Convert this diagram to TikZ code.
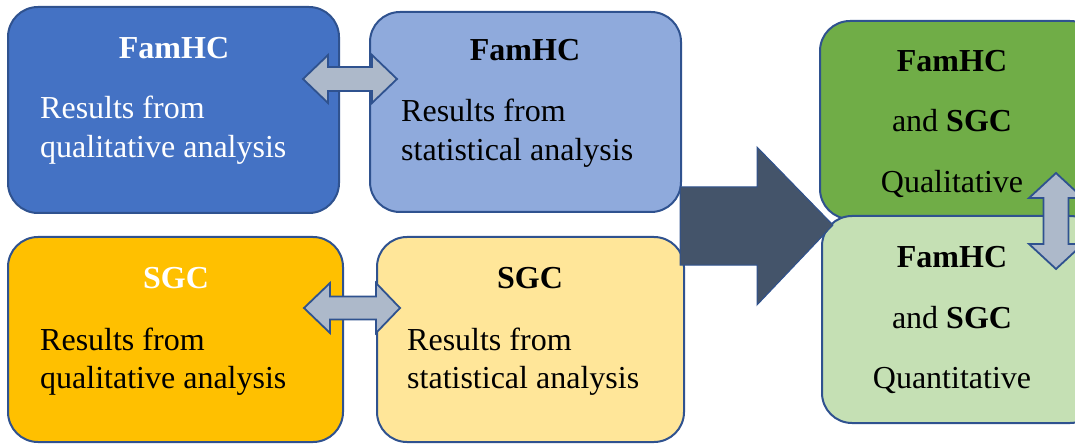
\documentclass[tikz,border=0pt]{standalone}
\usepackage{fontspec}
\setmainfont{Liberation Serif}
\usetikzlibrary{calc}
\definecolor{boxEdge}{HTML}{2F528F}
\definecolor{famQual}{HTML}{4472C4}
\definecolor{famStat}{HTML}{8FAADC}
\definecolor{sgcQual}{HTML}{FFC000}
\definecolor{sgcStat}{HTML}{FFE699}
\definecolor{bothQual}{HTML}{70AD47}
\definecolor{bothQuant}{HTML}{C5E0B4}
\definecolor{arrFill}{HTML}{ADB9CA}
\definecolor{bigArr}{HTML}{44546A}

\begin{document}
\begin{tikzpicture}[x=1pt,y=-1pt,
  panel/.style={draw=boxEdge,line width=2pt,rounded corners=30pt,inner sep=0pt},
  blockarr/.style={draw=boxEdge,line width=1.8pt,fill=arrFill,line join=miter},
  txt/.style={font=\fontsize{32}{40}\selectfont,inner sep=0pt},
  ttl/.style={font=\fontsize{32}{40}\selectfont\bfseries,inner sep=0pt,anchor=base}]
\useasboundingbox (0,0) rectangle (1075,446);
\clip (0,0) rectangle (1075,446);
% four result boxes
\node[panel,fill=famQual,minimum width=331pt,minimum height=206pt] (famqual) at (173.5,110) {};
\node[panel,fill=famStat,minimum width=311pt,minimum height=200pt] (famstat) at (525.5,112) {};
\node[panel,fill=sgcQual,minimum width=335pt,minimum height=205pt] (sgcqual) at (175.5,339.5) {};
\node[panel,fill=sgcStat,minimum width=307pt,minimum height=205pt] (sgcstat) at (530.5,339.5) {};
% combined boxes (cut at the right border)
\node[panel,fill=bothQual,minimum width=280pt,minimum height=198pt] (bothqual) at (960,120) {};
\node[panel,fill=bothQuant,minimum width=278pt,minimum height=207pt] (bothquant) at (961,319.5) {};

\node[ttl,white] (t1) at (174,59) {FamHC};
\node[txt,white,anchor=base west] (r1) at (40,119) {Results from};
\node[txt,white,anchor=base west] (q1) at (40,158) {qualitative analysis};
\node[ttl] (t2) at (525,61) {FamHC};
\node[txt,anchor=base west] (r2) at (401,122) {Results from};
\node[txt,anchor=base west] (s2) at (401,161) {statistical analysis};
\node[ttl,white] (t3) at (176,288) {SGC};
\node[txt,anchor=base west] (r3) at (40,350) {Results from};
\node[txt,anchor=base west] (q3) at (40,388) {qualitative analysis};
\node[ttl] (t4) at (530,288) {SGC};
\node[txt,anchor=base west] (r4) at (407,350) {Results from};
\node[txt,anchor=base west] (s4) at (407,388) {statistical analysis};

\node[ttl] (t5) at (952,72) {FamHC};
\node[txt,anchor=base] (a5) at (952,132) {and \textbf{SGC}};
\node[txt,anchor=base] (q5) at (952,193) {Qualitative};
\node[ttl] (t6) at (952,267) {FamHC};
\node[txt,anchor=base] (a6) at (952,328) {and \textbf{SGC}};
\node[txt,anchor=base] (q6) at (952,388) {Quantitative};

% block arrows
\coordinate (ab1) at ($(famqual.east)+(-37,-31)$);
\coordinate (ab2) at ($(famstat.west)+(28,-33)$);
\draw[blockarr] (ab1) -- ++(25,-24) -- ++(0,12) -- ($(ab2)+(-25,-12)$) -- ++(0,-12) -- (ab2)
  -- ++(-25,24) -- ++(0,-12) -- ($(ab1)+(25,12)$) -- ++(0,12) -- cycle;
\coordinate (cd1) at ($(sgcqual.east)+(-40,-31.5)$);
\coordinate (cd2) at ($(sgcstat.west)+(24,-31.5)$);
\draw[blockarr] (cd1) -- ++(26,-25) -- ++(0,13.5) -- ($(cd2)+(-24,-11.5)$) -- ++(0,-13.5) -- (cd2)
  -- ++(-24,25) -- ++(0,-13.5) -- ($(cd1)+(26,11.5)$) -- ++(0,13.5) -- cycle;
\coordinate (ef1) at (1056,173);
\coordinate (ef2) at (1056,269);
\draw[blockarr] (ef1) -- ++(27,25) -- ++(-14.5,0) -- ($(ef2)+(12.5,-25)$) -- ++(14.5,0) -- (ef2)
  -- ++(-27,-25) -- ++(14.5,0) -- ($(ef1)+(-12.5,25)$) -- ++(-14.5,0) -- cycle;
% big arrow towards the combined results
\coordinate (tail) at (680,226);
\coordinate (tip) at (833,225);
\draw[draw=boxEdge,line width=1pt,fill=bigArr] ($(tail)+(0,-39)$) -- ($(tip)+(-76,-38)$) -- ++(0,-40)
  -- (tip) -- ++(-76,80) -- ++(0,-40) -- ($(tail)+(0,39)$) -- cycle;
\end{tikzpicture}
\end{document}
